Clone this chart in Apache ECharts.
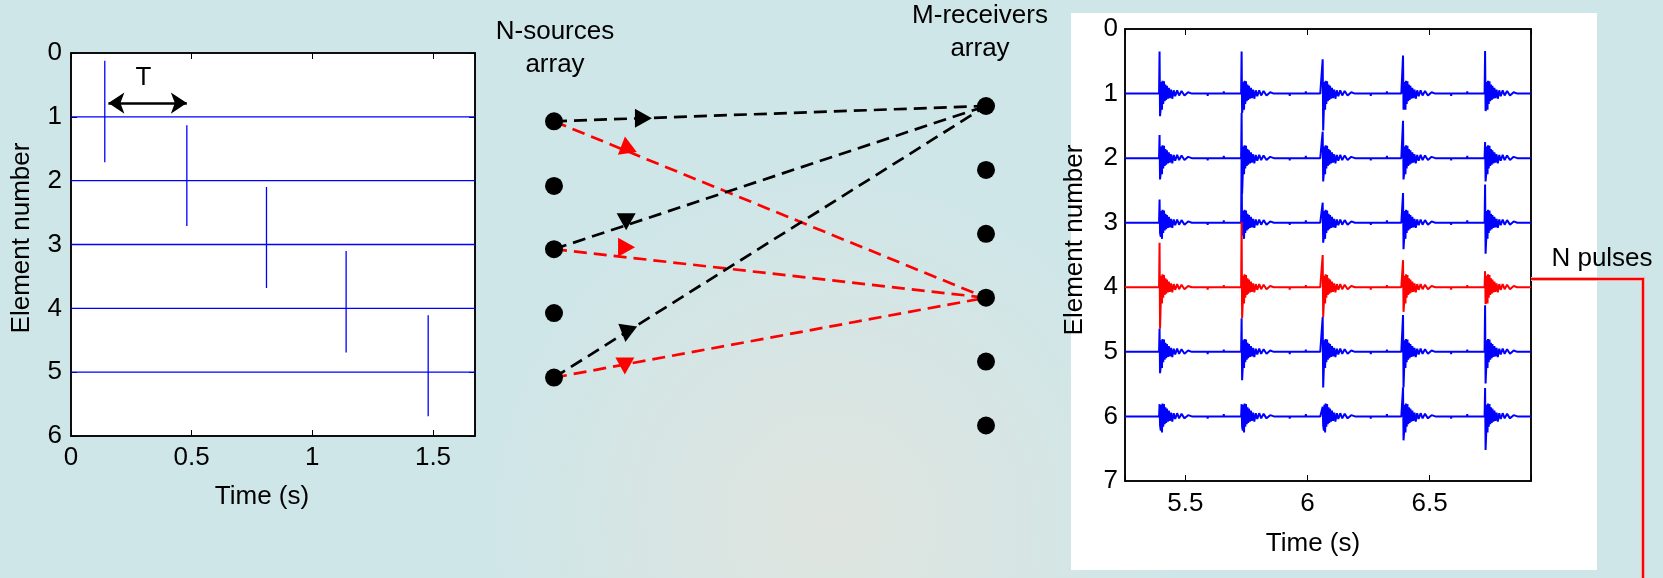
<!DOCTYPE html>
<html lang="en">
<head>
    <meta charset="UTF-8">
    <title>Source / receiver array pulses</title>
    <script src="https://cdn.jsdelivr.net/npm/echarts@6/dist/echarts.min.js"></script>
    <style>
        html, body { margin: 0; padding: 0; }
        #main { width: 1663px; height: 578px; }
    </style>
</head>
<body>
<div id="main"></div>
<script>
    // ---- left panel: emitted pulses, one per source element ----
    var leftTimes = [0.14, 0.48, 0.81, 1.14, 1.48]
    var leftTop = [0.12, 1.13, 2.10, 3.10, 4.11]
    var leftBottom = [1.71, 2.71, 3.68, 4.69, 5.69]
    var leftXMax = 1.674

    // ---- middle diagram: sources (x=0) and receivers (x=1) ----
    var sourceY = [1.24, 2.25, 3.24, 4.24, 5.25]
    var receiverY = [1, 2, 3, 4, 5, 6]
    // [source index, receiver index, colour]
    var links = [
        [0, 0, 'black'], [0, 3, 'red'],
        [2, 0, 'black'], [2, 3, 'red'],
        [4, 0, 'black'], [4, 3, 'red']
    ]
    // arrow heads as drawn in the picture: x, y, rotation
    var arrowX = [0.207, 0.167, 0.167, 0.168, 0.168, 0.164]
    var arrowY = [1.19, 1.61, 2.81, 3.21, 4.56, 5.07]
    var arrowRot = [-90, 8, 180, -90, 172, 180]

    // ---- right panel: received signals ----
    var rightTimes = [5.394, 5.730, 6.062, 6.391, 6.727]
    var rightTop = [
        [0.35, 0.35, 0.47, 0.41, 0.34],
        [1.64, 1.30, 1.59, 1.42, 1.75],
        [2.64, 2.00, 2.69, 2.54, 2.41],
        [3.31, 2.99, 3.50, 3.58, 3.75],
        [4.64, 4.48, 4.46, 4.43, 4.28],
        [5.81, 5.81, 5.85, 5.55, 5.56]
    ]
    var rightBottom = [
        [1.35, 1.30, 1.57, 1.25, 1.27],
        [2.33, 2.55, 2.36, 2.33, 2.36],
        [3.16, 3.20, 3.31, 3.41, 3.48],
        [4.64, 4.48, 4.46, 4.38, 4.26],
        [5.33, 5.44, 5.55, 5.55, 5.49],
        [6.14, 6.16, 6.14, 6.37, 6.52]
    ]
    // ringing after each arrival (time after spike, amplitude in element units)
    var codaDt = [0.003, 0.005, 0.008, 0.010, 0.013, 0.016, 0.019, 0.022, 0.025, 0.028,
        0.032, 0.036, 0.040, 0.045, 0.050, 0.056, 0.062, 0.070, 0.078, 0.088,
        0.100, 0.115, 0.130]
    var codaAmp = [0.22, -0.18, 0.25, -0.20, 0.16, -0.19, 0.12, -0.14, 0.10, -0.12,
        0.08, -0.09, 0.07, -0.06, 0.08, -0.05, 0.04, -0.05, 0.03, -0.04,
        0.03, -0.02, 0]
    // small noise ticks on the quiet part of each trace
    var noiseDt = [0.150, 0.172, 0.196, 0.214, 0.238, 0.262, 0.284, 0.306, 0.322]
    var noiseAmp = [0.03, -0.025, 0.035, -0.03, 0.025, -0.035, 0.03, -0.025, 0.03]
    var rightXMin = 5.2525
    var rightXMax = 6.915
    var highlighted = 3   // element 4 drawn in red

    var FONT = 'Liberation Sans, Arial, Helvetica, sans-serif'
    var BLUE = '#0000ff'
    var RED = '#ff0000'

    var mChart = echarts.init(document.getElementById('main'), null, {renderer: 'canvas'})

    function halfTick(v) {
        return Math.abs(v * 2 - Math.round(v * 2)) < 1e-6 ? String(v) : ''
    }

    var labelStyle = {color: '#000', fontSize: 26, fontFamily: FONT}
    function ax(o) {
        var base = {
            axisLine: {show: true, onZero: false, lineStyle: {color: '#000', width: 1.5}},
            axisTick: {show: true, inside: true, length: 6, lineStyle: {color: '#000'}},
            splitLine: {show: false},
            axisLabel: Object.assign({}, labelStyle),
            nameMoveOverlap: false
        }
        return Object.assign(base, o)
    }

    // left traces
    var series = []
    leftTimes.forEach(function (t, i) {
        var k = i + 1
        series.push({
            type: 'line', xAxisIndex: 0, yAxisIndex: 0, showSymbol: false, silent: true,
            lineStyle: {color: BLUE, width: 1.3},
            data: [[0, k], [t, k], [t, leftTop[i]], [t, leftBottom[i]], [t, k], [leftXMax, k]]
        })
    })
    // T arrow
    series.push({
        type: 'lines', coordinateSystem: 'cartesian2d', xAxisIndex: 0, yAxisIndex: 0,
        symbol: ['arrow', 'arrow'], symbolSize: 16,
        lineStyle: {color: '#000', width: 2.5, opacity: 1},
        data: [{coords: [[0.155, 0.785], [0.48, 0.785]]}]
    })
    series.push({
        type: 'scatter', xAxisIndex: 0, yAxisIndex: 0, symbolSize: 0,
        itemStyle: {color: '#000', opacity: 1},
        label: {show: true, position: 'inside', formatter: 'T', color: '#000', fontSize: 26,
            fontFamily: FONT, textBorderWidth: 0},
        data: [[0.30, 0.39]]
    })

    // diagram links (dashed)
    links.forEach(function (l) {
        series.push({
            type: 'lines', coordinateSystem: 'cartesian2d', xAxisIndex: 2, yAxisIndex: 2,
            symbol: 'none', z: 3,
            lineStyle: {color: l[2] === 'red' ? RED : '#000', width: 2.7, type: [13, 7], opacity: 1},
            data: [{coords: [[0, sourceY[l[0]]], [1, receiverY[l[1]]]]}]
        })
    })
    // arrow heads
    series.push({
        type: 'scatter', xAxisIndex: 2, yAxisIndex: 2, symbol: 'triangle', symbolSize: [19, 17], z: 4,
        data: links.map(function (l, i) {
            return {
                value: [arrowX[i], arrowY[i]],
                symbolRotate: arrowRot[i],
                itemStyle: {color: l[2] === 'red' ? RED : '#000', opacity: 1}
            }
        })
    })
    // dots
    series.push({
        type: 'scatter', xAxisIndex: 2, yAxisIndex: 2, symbolSize: 18, z: 5,
        itemStyle: {color: '#000', opacity: 1},
        data: sourceY.map(function (y) { return [0, y] }).concat(receiverY.map(function (y) { return [1, y] }))
    })

    // right traces
    rightTop.forEach(function (tops, i) {
        var k = i + 1
        var pts = [[rightXMin, k]]
        rightTimes.forEach(function (t, p) {
            pts.push([t - 0.002, k], [t, tops[p]], [t + 0.002, rightBottom[i][p]])
            codaDt.forEach(function (dt, j) {
                pts.push([t + 0.002 + dt, k + codaAmp[j]])
            })
            noiseDt.forEach(function (dt, j) {
                if (t + dt + 0.002 < rightXMax) {
                    pts.push([t + dt, k], [t + dt + 0.001, k + noiseAmp[j]], [t + dt + 0.002, k])
                }
            })
        })
        pts.push([rightXMax, k])
        series.push({
            type: 'line', xAxisIndex: 3, yAxisIndex: 4, showSymbol: false, silent: true,
            z: i === highlighted ? 3 : 2,
            lineStyle: {color: i === highlighted ? RED : BLUE, width: 2},
            data: pts
        })
    })

    var option = {
        animation: false,
        backgroundColor: {
            type: 'radial', x: 0.5, y: 0.9, r: 0.6,
            colorStops: [{offset: 0, color: '#dfe4df'}, {offset: 1, color: '#cfe6e8'}]
        },
        grid: [
            {left: 71, top: 53, width: 404, height: 383, show: true, backgroundColor: '#fff',
                borderColor: '#000', borderWidth: 1.5, outerBoundsMode: 'none'},
            {left: 554, top: 42.1, width: 432, height: 447.3, outerBoundsMode: 'none'},
            {left: 1125, top: 29, width: 406, height: 452, show: true, backgroundColor: '#fff',
                borderColor: '#000', borderWidth: 1.5, outerBoundsMode: 'none'}
        ],
        xAxis: [
            ax({gridIndex: 0, type: 'value', min: 0, max: leftXMax, interval: 0.5,
                name: 'Time (s)', nameLocation: 'middle', nameGap: 48,
                nameTextStyle: Object.assign({padding: [0, 22, 0, 0]}, labelStyle),
                axisLabel: Object.assign({margin: 9, formatter: halfTick}, labelStyle)}),
            ax({gridIndex: 0, type: 'value', position: 'top', min: 0, max: leftXMax, interval: 0.5,
                axisLabel: {show: false}}),
            {gridIndex: 1, type: 'value', min: 0, max: 1, show: false},
            ax({gridIndex: 2, type: 'value', min: rightXMin, max: rightXMax, splitNumber: 3,
                name: 'Time (s)', nameLocation: 'middle', nameGap: 50,
                nameTextStyle: Object.assign({padding: [0, 30, 0, 0]}, labelStyle),
                axisLabel: Object.assign({margin: 10, formatter: halfTick}, labelStyle)}),
            ax({gridIndex: 2, type: 'value', position: 'top', min: rightXMin, max: rightXMax, splitNumber: 3,
                axisLabel: {show: false}})
        ],
        yAxis: [
            ax({gridIndex: 0, type: 'value', inverse: true, min: 0, max: 6, interval: 1,
                name: 'Element number', nameLocation: 'middle', nameGap: 36, nameRotate: 90,
                nameTextStyle: Object.assign({padding: [0, 0, 0, 13]}, labelStyle),
                axisLabel: Object.assign({margin: 9}, labelStyle)}),
            ax({gridIndex: 0, type: 'value', position: 'right', inverse: true, min: 0, max: 6, interval: 1,
                axisLabel: {show: false}}),
            {gridIndex: 1, type: 'value', inverse: true, min: 0, max: 7, show: false},
            ax({gridIndex: 2, type: 'value', position: 'right', inverse: true, min: 0, max: 7, interval: 1,
                axisTick: {show: false}, axisLabel: {show: false}}),
            ax({gridIndex: 2, type: 'value', inverse: true, min: 0, max: 7, interval: 1,
                name: 'Element number', nameLocation: 'middle', nameGap: 37, nameRotate: 90,
                nameTextStyle: Object.assign({padding: [0, 0, 0, 30]}, labelStyle),
                axisTick: {show: false},
                axisLabel: Object.assign({margin: 7}, labelStyle)})
        ],
        graphic: [
            {type: 'rect', z: -10, shape: {x: 1071, y: 13, width: 526, height: 557}, style: {fill: '#fff'}},
            {type: 'text', x: 555, y: 48, style: {text: 'N-sources\narray', fontSize: 26, fontFamily: FONT,
                fill: '#000', align: 'center', verticalAlign: 'middle', lineHeight: 33}},
            {type: 'text', x: 980, y: 32, style: {text: 'M-receivers\narray', fontSize: 26, fontFamily: FONT,
                fill: '#000', align: 'center', verticalAlign: 'middle', lineHeight: 33}},
            {type: 'text', x: 1602, y: 259, style: {text: 'N pulses', fontSize: 26, fontFamily: FONT,
                fill: '#000', align: 'center', verticalAlign: 'middle'}},
            {type: 'polyline', z: 5, shape: {points: [[1531, 279], [1643, 279], [1643, 578]]},
                style: {stroke: '#f4a5a5', lineWidth: 4, fill: null}},
            {type: 'polyline', z: 6, shape: {points: [[1531, 279], [1643, 279], [1643, 578]]},
                style: {stroke: RED, lineWidth: 2, fill: null}}
        ],
        series: series
    }
    mChart.setOption(option)
</script>
</body>
</html>
